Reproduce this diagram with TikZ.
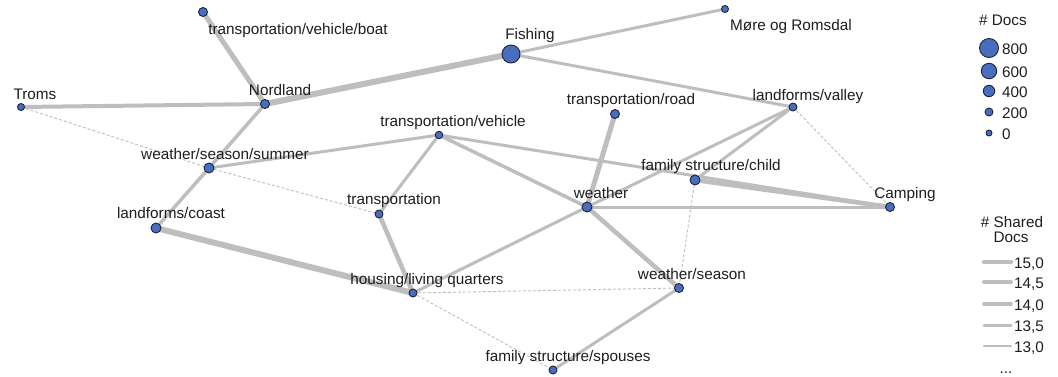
\documentclass[tikz,border=0pt]{standalone}
\usepackage{fontspec}
\setmainfont{Liberation Sans}
\pgfdeclarelayer{links}
\pgfsetlayers{links,main}
\begin{document}
\begin{tikzpicture}[x=1pt,y=-1pt,
  dot/.style={circle,draw=dotline,fill=dotfill,line width=0.9pt,inner sep=0pt,minimum size=#1},
  dot/.default=8pt,
  lbl/.style={anchor=base,inner sep=0pt,text=txt,font=\fontsize{15.3}{18}\selectfont},
  lblw/.style={lbl,anchor=base west},
  link/.style={draw=edge,line width=#1},
  weak/.style={draw=edge,line width=0.9pt,dash pattern=on 3pt off 2pt},
  keyline/.style={draw=edge,line width=#1,line cap=round}]
\definecolor{edge}{RGB}{190,190,190}
\definecolor{dotfill}{RGB}{74,110,190}
\definecolor{dotline}{RGB}{28,36,62}
\definecolor{txt}{RGB}{30,30,30}
\useasboundingbox (0,0) rectangle (1058,376);

% topic nodes, sized by document count
\node[dot=9pt]   (boat)    at (203,12)  {};
\node[dot=9pt]   (nord)    at (265,104) {};
\node[dot=7pt]   (troms)   at (21,107)  {};
\node[dot=18pt]  (fish)    at (511,54)  {};
\node[dot=7pt]   (more)    at (725,9)   {};
\node[dot=8pt]   (valley)  at (793,107) {};
\node[dot=9pt]   (road)    at (615,114) {};
\node[dot=7.5pt] (vehicle) at (439,135) {};
\node[dot=10pt]  (summer)  at (209,168) {};
\node[dot=10pt]  (child)   at (695,180) {};
\node[dot=10pt]  (weather) at (587,207) {};
\node[dot=9pt]   (camp)    at (890,207) {};
\node[dot=8pt]   (transp)  at (379,214) {};
\node[dot=10pt]  (coast)   at (156,228) {};
\node[dot=8pt]   (housing) at (413,293) {};
\node[dot=9pt]   (wseason) at (679,288) {};
\node[dot=8pt]   (spouses) at (553,370) {};

% shared-document links, drawn beneath the nodes
\begin{pgfonlayer}{links}
\fill[white] (0,0) rectangle (1058,376);
\path[weak] (troms.center) -- (summer.center);
\path[weak] (summer.center) -- (transp.center);
\path[weak] (valley.center) -- (camp.center);
\path[weak] (housing.center) -- (wseason.center);
\path[weak] (housing.center) -- (spouses.center);
\path[weak] (child.center) -- (wseason.center);
\path[link=6pt]   (nord.center) -- (fish.center);
\path[link=5pt]   (boat.center) -- (nord.center);
\path[link=4pt]   (troms.center) -- (nord.center);
\path[link=3pt]   (fish.center) -- (more.center);
\path[link=3pt]   (fish.center) -- (valley.center);
\path[link=3.5pt] (nord.center) -- (summer.center);
\path[link=3pt]   (summer.center) -- (vehicle.center);
\path[link=3.5pt] (summer.center) -- (coast.center);
\path[link=6pt]   (coast.center) -- (housing.center);
\path[link=3pt]   (vehicle.center) -- (transp.center);
\path[link=3.5pt] (vehicle.center) -- (weather.center);
\path[link=3pt]   (vehicle.center) -- (camp.center);
\path[link=4.5pt] (child.center) -- (camp.center);
\path[link=5pt]   (road.center) -- (weather.center);
\path[link=3pt]   (valley.center) -- (weather.center);
\path[link=3pt]   (valley.center) -- (child.center);
\path[link=3pt]   (weather.center) -- (camp.center);
\path[link=3pt]   (weather.center) -- (housing.center);
\path[link=4.5pt] (weather.center) -- (wseason.center);
\path[link=4.5pt] (transp.center) -- (housing.center);
\path[link=3pt]   (wseason.center) -- (spouses.center);
\end{pgfonlayer}

% topic labels
\node[lbl] (troms-l)   at (35,99)   {Troms};
\node[lbl] (nord-l)    at (280,95)  {Nordland};
\node[lbl] (boat-l)    at (298,34)  {transportation/vehicle/boat};
\node[lbl] (fish-l)    at (530,39)  {Fishing};
\node[lbl] (more-l)    at (791,30)  {Møre og Romsdal};
\node[lbl] (valley-l)  at (808,100) {landforms/valley};
\node[lbl] (road-l)    at (631,104) {transportation/road};
\node[lbl] (vehicle-l) at (453,126) {transportation/vehicle};
\node[lbl] (child-l)   at (711,170) {family structure/child};
\node[lbl] (weather-l) at (601,198) {weather};
\node[lbl] (camp-l)    at (905,198) {Camping};
\node[lbl] (wseason-l) at (692,279) {weather/season};
\node[lbl] (spouses-l) at (568,361) {family structure/spouses};
\node[lbl] (summer-l)  at (225,159) {weather/season/summer};
\node[lbl] (transp-l)  at (394,204) {transportation};
\node[lbl] (coast-l)   at (171,218) {landforms/coast};
\node[lbl] (housing-l) at (427,284) {housing/living quarters};

% legend: document counts
\node[lbl] (docs-t) at (1003,25) {\# Docs};
\node[dot=19pt]   (d800) at (989,48)  {};
\node[dot=15.4pt] (d600) at (989,71)  {};
\node[dot=11.4pt] (d400) at (989,91)  {};
\node[dot=8pt]    (d200) at (989,112) {};
\node[dot=6pt]    (d0)   at (989,133) {};
\node[lblw] (d800-l) at (1002,54)  {800};
\node[lblw] (d600-l) at (1002,77)  {600};
\node[lblw] (d400-l) at (1002,97)  {400};
\node[lblw] (d200-l) at (1002,118) {200};
\node[lblw] (d0-l)   at (1002,139) {0};

% legend: shared documents
\node[lbl] (sh-t1) at (1012,227) {\# Shared};
\node[lbl] (sh-t2) at (1011,242) {Docs};
\coordinate (s1a) at (984,262); \coordinate (s1b) at (1011,262);
\coordinate (s2a) at (984,282); \coordinate (s2b) at (1011,282);
\coordinate (s3a) at (984,304); \coordinate (s3b) at (1011,304);
\coordinate (s4a) at (984,325); \coordinate (s4b) at (1011,325);
\coordinate (s5a) at (984,346); \coordinate (s5b) at (1011,346);
\path[keyline=4.5pt] (s1a) -- (s1b);
\path[keyline=4pt]   (s2a) -- (s2b);
\path[keyline=3.5pt] (s3a) -- (s3b);
\path[keyline=3pt]   (s4a) -- (s4b);
\path[keyline=2.5pt] (s5a) -- (s5b);
\node[lblw] (s1-l) at (1014,268) {15,0};
\node[lblw] (s2-l) at (1014,288) {14,5};
\node[lblw] (s3-l) at (1014,310) {14,0};
\node[lblw] (s4-l) at (1014,331) {13,5};
\node[lblw] (s5-l) at (1014,352) {13,0};
\node[lbl] (more-dots) at (1006,373) {...};
\end{tikzpicture}
\end{document}
